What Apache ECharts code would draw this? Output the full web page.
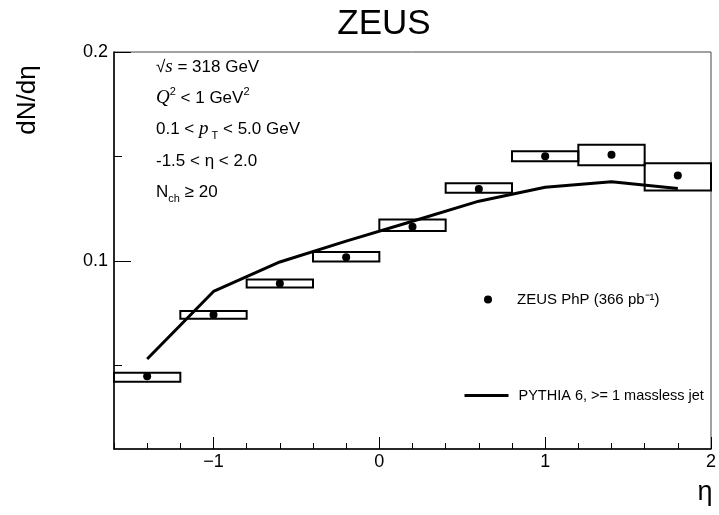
<!DOCTYPE html>
<html>
<head>
<meta charset="utf-8">
<script src="https://cdn.jsdelivr.net/npm/echarts@6/dist/echarts.min.js"></script>
<style>html,body{margin:0;padding:0;background:#fff}#c{width:719px;height:515px}</style>
</head>
<body>
<div id="c"></div>
<script>
// ---- data ----
const etaCenters = [-1.4, -1.0, -0.6, -0.2, 0.2, 0.6, 1.0, 1.4, 1.8];
const binLow     = [-1.6, -1.2, -0.8, -0.4, 0.0, 0.4, 0.8, 1.2, 1.6];
const binHigh    = [-1.2, -0.8, -0.4, 0.0, 0.4, 0.8, 1.2, 1.6, 2.0];
const zeusValues = [0.0448, 0.0742, 0.0892, 0.1018, 0.1164, 0.1344, 0.1501, 0.1508, 0.1409];
const sysLow     = [0.0422, 0.0723, 0.0873, 0.0997, 0.1143, 0.1326, 0.1477, 0.1458, 0.1337];
const sysHigh    = [0.0465, 0.0761, 0.0911, 0.1043, 0.1198, 0.1372, 0.1525, 0.1556, 0.1468];
const pythiaValues = [0.0531, 0.0854, 0.0995, 0.1095, 0.1190, 0.1286, 0.1353, 0.1379, 0.1347];
const xMajorTicks = [-1, 0, 1, 2];
const xTickLabels = ['\u22121', '0', '1', '2'];
const yMajorTicks = [0.1, 0.2];
const yMinorTicks = [0.05, 0.15];
const yTickLabels = ['0.1', '0.2'];
const zeusName = 'ZEUS PhP (366 pb\u207B\u00B9)';
const pythiaName = 'PYTHIA 6, >= 1 massless jet';

const FONT = "'Liberation Sans', Arial, Helvetica, sans-serif";
const SERIF = "'Liberation Serif', 'Times New Roman', serif";

const chart = echarts.init(document.getElementById('c'), null, {renderer: 'canvas'});

const boxData = etaCenters.map((e, i) => [binLow[i], binHigh[i], sysLow[i], sysHigh[i]]);

const richBase = {
  t: {fontFamily: FONT, fontSize: 17, color: '#000', lineHeight: 24},
  it: {fontFamily: SERIF, fontStyle: 'italic', fontSize: 19, color: '#000', lineHeight: 24},
  rt: {fontFamily: FONT, fontSize: 17, color: '#000', lineHeight: 24},
  sup: {fontFamily: FONT, fontSize: 11, color: '#000', lineHeight: 12, verticalAlign: 'top'},
  sub: {fontFamily: FONT, fontSize: 11, color: '#000', lineHeight: 12, verticalAlign: 'bottom'}
};
const annot = [
  '{rt|\u221A}{it|s}{t| = 318 GeV}',
  '{it|Q}{sup|2}{t| < 1 GeV}{sup|2}',
  '{t|0.1 < }{it|p}{sub| T}{t| < 5.0 GeV}',
  '{t|-1.5 < \u03B7 < 2.0}',
  '{t|N}{sub|ch}{t| \u2265 20}'
];
const annotY = [67, 98, 129, 161, 192];

const option = {
  backgroundColor: '#fff',
  animation: false,
  title: {
    text: 'ZEUS', left: 379, top: 2, textAlign: 'center',
    textStyle: {fontFamily: FONT, fontSize: 35, fontWeight: 'normal', color: '#000'}
  },
  grid: {left: 114, right: 5, top: 52, bottom: 66, show: true, borderColor: '#444', borderWidth: 1, backgroundColor: 'transparent'},
  legend: [
    {
      data: [zeusName], left: 484, top: 292, padding: 0, orient: 'vertical',
      itemWidth: 48, itemHeight: 8, icon: 'circle',
      itemStyle: {color: '#000', opacity: 1},
      textStyle: {fontFamily: FONT, fontSize: 15, color: '#000'}
    },
    {
      data: [pythiaName], left: 463, top: 388, padding: 0, orient: 'vertical',
      itemWidth: 44, itemHeight: 14,
      itemStyle: {color: 'rgba(0,0,0,0)', borderWidth: 0, opacity: 0},
      lineStyle: {color: '#000', width: 3},
      textStyle: {fontFamily: FONT, fontSize: 14.5, color: '#000', padding: [0, 0, 0, 5]}
    }
  ],
  xAxis: [
    {
      type: 'value', min: -1.6, max: 2.0, interval: 0.2, position: 'bottom',
      axisLine: {show: true, onZero: false, lineStyle: {color: '#000', width: 1.5}},
      axisTick: {show: true, inside: true, length: 12, customValues: xMajorTicks, lineStyle: {color: '#000', width: 1}},
      axisLabel: {
        show: true, margin: 4, customValues: xMajorTicks,
        formatter: v => xTickLabels[xMajorTicks.findIndex(t => Math.abs(t - v) < 1e-9)],
        fontFamily: FONT, fontSize: 18, color: '#000'
      },
      splitLine: {show: false}
    },
    {
      type: 'value', min: -1.6, max: 2.0, interval: 0.2, position: 'bottom',
      axisLine: {show: false, onZero: false},
      axisTick: {show: true, inside: true, length: 6, lineStyle: {color: '#000', width: 1}},
      axisLabel: {show: false},
      splitLine: {show: false}
    }
  ],
  yAxis: [
    {
      type: 'value', min: 0.01, max: 0.2, position: 'left',
      axisLine: {show: true, onZero: false, lineStyle: {color: '#000', width: 1.5}},
      axisTick: {show: true, inside: true, length: 17, customValues: yMajorTicks, lineStyle: {color: '#000', width: 1}},
      axisLabel: {
        show: true, margin: 6, customValues: yMajorTicks,
        formatter: v => yTickLabels[yMajorTicks.findIndex(t => Math.abs(t - v) < 1e-9)],
        fontFamily: FONT, fontSize: 18, color: '#000'
      },
      splitLine: {show: false}
    },
    {
      type: 'value', min: 0.01, max: 0.2, position: 'left',
      axisLine: {show: false, onZero: false},
      axisTick: {show: true, inside: true, length: 8, customValues: yMinorTicks, lineStyle: {color: '#000', width: 1}},
      axisLabel: {show: false},
      splitLine: {show: false}
    }
  ],
  series: [
    {
      name: 'ZEUS systematic', type: 'custom', xAxisIndex: 0, yAxisIndex: 0,
      data: boxData, z: 2,
      renderItem: function (params, api) {
        const p1 = api.coord([api.value(0), api.value(3)]);
        const p2 = api.coord([api.value(1), api.value(2)]);
        return {
          type: 'rect',
          shape: {x: p1[0], y: p1[1], width: p2[0] - p1[0], height: p2[1] - p1[1]},
          style: {fill: 'none', stroke: '#000', lineWidth: 2}
        };
      }
    },
    {
      name: pythiaName, type: 'line', xAxisIndex: 0, yAxisIndex: 0,
      data: etaCenters.map((e, i) => [e, pythiaValues[i]]),
      symbol: 'none', showSymbol: false, z: 3,
      lineStyle: {color: '#000', width: 3}, itemStyle: {color: '#000'}
    },
    {
      name: zeusName, type: 'scatter', xAxisIndex: 0, yAxisIndex: 0,
      data: etaCenters.map((e, i) => [e, zeusValues[i]]),
      symbol: 'circle', symbolSize: 8, z: 4,
      itemStyle: {color: '#000', opacity: 1}
    }
  ],
  graphic: [
    {
      type: 'text', x: 28, y: 100, rotation: Math.PI / 2,
      style: {text: 'dN/d\u03B7', fontFamily: FONT, fontSize: 26, fill: '#000', align: 'center', verticalAlign: 'middle'}
    },
    {
      type: 'text', x: 705, y: 493,
      style: {text: '\u03B7', fontFamily: FONT, fontSize: 27, fill: '#000', align: 'center', verticalAlign: 'middle'}
    }
  ].concat(annot.map((s, i) => ({
    type: 'text', x: 156, y: annotY[i],
    style: {text: s, rich: richBase, align: 'left', verticalAlign: 'middle', fill: '#000'}
  })))
};
chart.setOption(option);
</script>
</body>
</html>
